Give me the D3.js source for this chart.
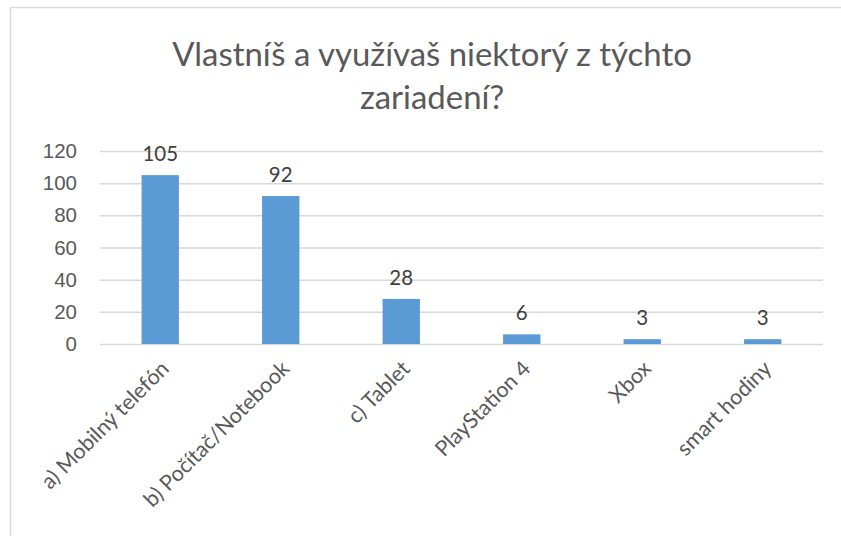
<!DOCTYPE html>
<html>
<head>
<meta charset="utf-8">
<script src="https://cdn.jsdelivr.net/npm/d3@7"></script>
<style>
  body { margin: 0; background: #fff; }
  svg { display: block; font-family: Lato, "Open Sans", sans-serif; }
  .y.axis text { fill: #595959; font-size: 20.5px; }
  .y.axis line { stroke: #d9d9d9; }
</style>
</head>
<body>
<script>
var categories = ['a) Mobilný telefón', 'b) Počítač/Notebook', 'c) Tablet', 'PlayStation 4', 'Xbox', 'smart hodiny'];
var counts = [105, 92, 28, 6, 3, 3];
var yTicks = [0, 20, 40, 60, 80, 100, 120];
var titleLines = ['Vlastníš a využívaš niektorý z týchto', 'zariadení?'];

var W = 841, H = 536;
var margin = {left: 100, right: 18, top: 151, bottom: 192};

var svg = d3.select('body').append('svg')
    .attr('width', W)
    .attr('height', H);

// chart frame (only left and top edges are visible in the crop)
svg.append('rect')
    .attr('x', 10.5).attr('y', 7.5)
    .attr('width', W + 20).attr('height', H + 20)
    .attr('fill', 'none')
    .attr('stroke', '#d9d9d9')
    .attr('stroke-width', 1.5);

var title = svg.append('g').attr('class', 'title');
titleLines.forEach(function(t, i) {
    title.append('text')
        .attr('x', 432)
        .attr('y', 66 + i * 43)
        .attr('text-anchor', 'middle')
        .attr('fill', '#595959')
        .style('font-size', '31px')
        .text(t);
});
// fit first line to the reference width
var tw = title.select('text').node().getComputedTextLength();
title.selectAll('text').style('font-size', (31 * 520 / tw) + 'px');

var plotW = W - margin.left - margin.right,
    plotH = H - margin.top - margin.bottom;

var g = svg.append('g')
    .attr('transform', 'translate(' + margin.left + ',' + margin.top + ')');

var x = d3.scaleBand().domain(categories).range([0, plotW]).paddingInner(0.69).paddingOuter(0.345);
var y = d3.scaleLinear().domain([0, 120]).range([plotH, 0]);

var axisY = d3.axisLeft(y).tickValues(yTicks).tickSize(-plotW).tickPadding(23);
g.append('g')
    .attr('class', 'y axis')
    .call(axisY)
    .call(function(s) { s.select('.domain').remove(); })
    .selectAll('line').attr('stroke-width', 1.5);

g.selectAll('rect.bar')
    .data(counts)
    .enter().append('rect')
        .attr('class', 'bar')
        .attr('x', function(d, i) { return x(categories[i]); })
        .attr('y', function(d) { return y(d); })
        .attr('width', x.bandwidth())
        .attr('height', function(d) { return y(0) - y(d); })
        .attr('fill', '#5b9bd5');

g.selectAll('text.val')
    .data(counts)
    .enter().append('text')
        .attr('class', 'val')
        .attr('x', function(d, i) { return x(categories[i]) + x.bandwidth() / 2; })
        .attr('y', function(d) { return y(d) - 14; })
        .attr('text-anchor', 'middle')
        .attr('fill', '#404040')
        .style('font-size', '20.5px')
        .text(function(d) { return d; });

g.selectAll('text.cat')
    .data(categories)
    .enter().append('text')
        .attr('class', 'cat')
        .attr('text-anchor', 'end')
        .attr('fill', '#595959')
        .style('font-size', '21.5px')
        .attr('transform', function(d) {
            var cx = x(d) + x.bandwidth() / 2 + 10;
            return 'translate(' + cx + ',' + (plotH + 26) + ') rotate(-45)';
        })
        .text(function(d) { return d; });
</script>
</body>
</html>
